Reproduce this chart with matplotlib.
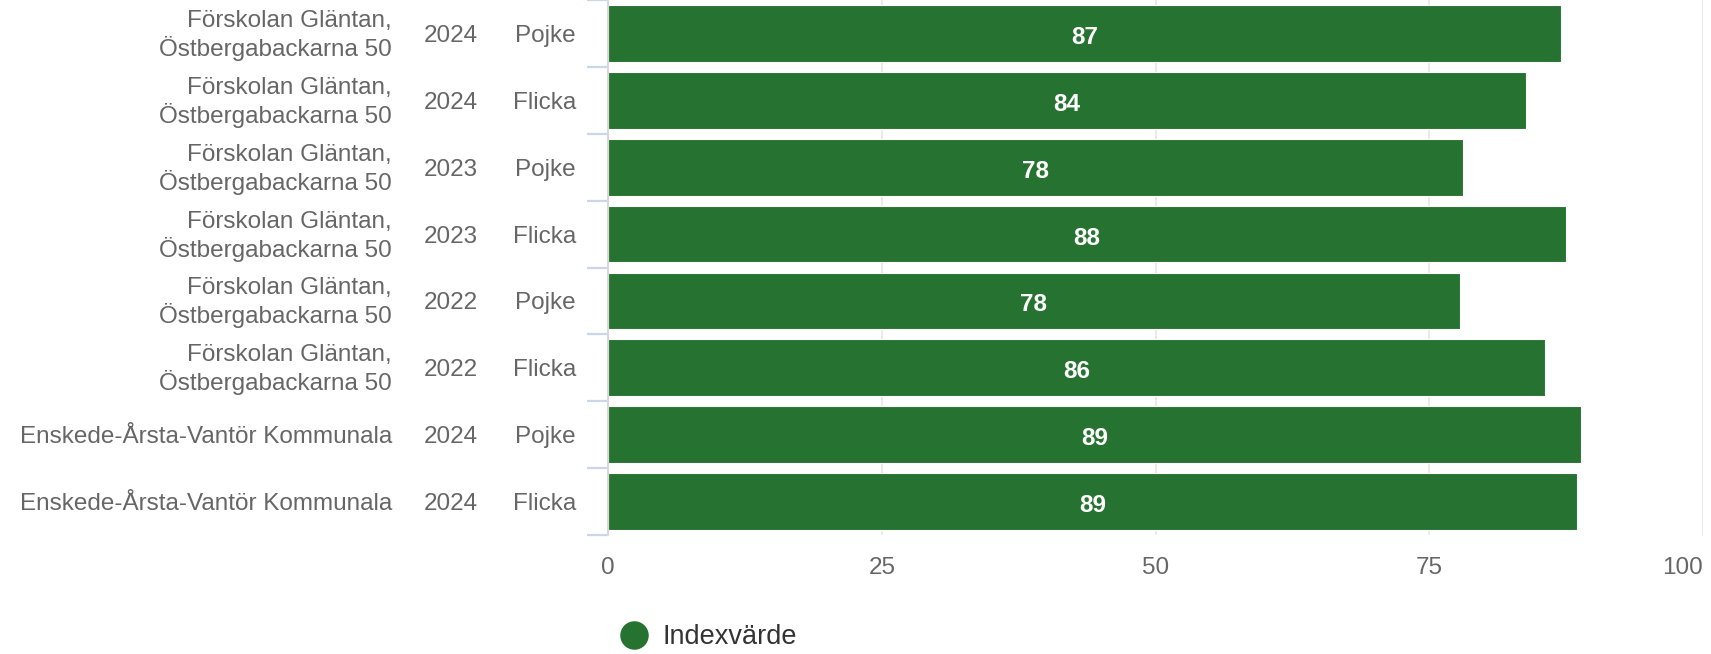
import matplotlib
matplotlib.use("Agg")
import matplotlib.pyplot as plt
from matplotlib.lines import Line2D
from matplotlib.transforms import ScaledTranslation

plt.rcParams['font.family'] = ['Liberation Sans', 'DejaVu Sans']

# data, top to bottom
names = ["Förskolan Gläntan,\nÖstbergabackarna 50"] * 6 + ["Enskede-Årsta-Vantör Kommunala"] * 2
years = ["2024", "2024", "2023", "2023", "2022", "2022", "2024", "2024"]
genders = ["Pojke", "Flicka", "Pojke", "Flicka", "Pojke", "Flicka", "Pojke", "Flicka"]
index_values = [87.0, 83.8, 78.1, 87.5, 77.8, 85.6, 88.9, 88.5]
x_ticks = [0, 25, 50, 75, 100]

green = '#267230'
label_grey = '#666666'

fig = plt.figure(figsize=(17.11, 6.54), dpi=100)
W, H = 1711, 654
ax = fig.add_axes([608 / W, 1 - 535 / H, (1703 - 608) / W, 535 / H])

pos = list(range(len(index_values)))
bars = ax.barh(pos, index_values, height=0.85, color=green,
               edgecolor='white', linewidth=0.8, zorder=3, label='Indexvärde')

# value labels in the middle of each bar
for p, v in zip(pos, index_values):
    ax.text(v / 2, p + 0.06, str(int(v + 0.5)), ha='center', va='center',
            color='white', fontsize=17.5, fontweight='bold', zorder=4)

ax.set_xlim(0, 100)
ax.set_ylim(len(pos) - 0.5, -0.5)
ax.set_xticks(x_ticks)
ax.set_xticklabels([str(t) for t in x_ticks])
ax.grid(axis='x', color='#e6e6e6', linewidth=1.2, zorder=0)
ax.tick_params(axis='x', length=0, pad=16, labelsize=17.5, labelcolor=label_grey)
xl = ax.get_xticklabels()
xl[-1].set_horizontalalignment('right')

# category labels: gender as tick labels, year and name as extra columns
ax.set_yticks(pos)
ax.set_yticklabels(genders)
ax.tick_params(axis='y', which='major', length=0, pad=23, labelsize=17.5,
               labelcolor=label_grey)
ax.set_yticks([p - 0.5 for p in pos] + [len(pos) - 0.5], minor=True)
ax.tick_params(axis='y', which='minor', length=15, width=1.6, color='#ccd6eb')

ytrans = ax.get_yaxis_transform()
for p, yr, nm in zip(pos, years, names):
    ax.text(0, p, yr, ha='center', va='center_baseline', fontsize=17.5, color=label_grey,
            transform=ytrans + ScaledTranslation(-1.57, 0, fig.dpi_scale_trans))
    ax.text(0, p + 0.03, nm, ha='right', va='center', multialignment='right',
            fontsize=17.5, color=label_grey, linespacing=1.2,
            transform=ytrans + ScaledTranslation(-2.16, 0, fig.dpi_scale_trans))

for s in ['top', 'right', 'bottom']:
    ax.spines[s].set_visible(False)
ax.spines['left'].set_color('#d8d8d8')
ax.spines['left'].set_linewidth(1.5)
ax.spines['left'].set_zorder(5)

handle = Line2D([], [], marker='o', ls='', ms=19.5, color=green)
fig.legend([handle], ['Indexvärde'], loc='center left',
           bbox_to_anchor=(619.5 / W, 1 - 637 / H), frameon=False,
           fontsize=19.5, labelcolor='#333333', borderpad=0, borderaxespad=0,
           handlelength=1.05, handletextpad=0.55)

fig.savefig('out.png', dpi=100)
